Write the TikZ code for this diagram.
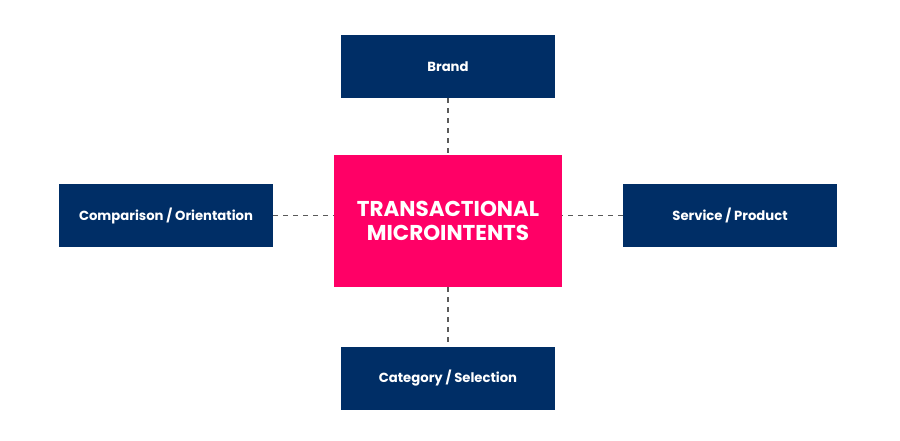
\documentclass[tikz,border=0pt]{standalone}
\usepackage{fontspec}
\setmainfont{Poppins}
\usetikzlibrary{positioning}
\definecolor{navyBox}{HTML}{002E66}
\definecolor{pinkBox}{HTML}{FF0066}
\definecolor{dashGray}{HTML}{5A5A5A}
\tikzset{
  topic/.style={fill=navyBox, text=white, minimum width=214pt, minimum height=63pt,
    inner sep=0pt, font=\bfseries\fontsize{13.2}{15}\selectfont},
  core/.style={fill=pinkBox, text=white, minimum width=228pt, minimum height=132pt,
    inner sep=0pt, align=center, font=\bfseries\fontsize{21.5}{24}\selectfont},
  link/.style={dashGray, line width=1.8pt, dash pattern=on 5pt off 5pt}
}
\begin{document}
\begin{tikzpicture}[x=1pt,y=1pt]
  \useasboundingbox (0,0) rectangle (900,441);
  % centre and the four intents
  \node [core] (micro) at (448,220) {TRANSACTIONAL\\MICROINTENTS};
  \node [topic] (brand) at (448,374.5) {Brand};
  \node [topic] (categ) at (448,62.5) {Category / Selection};
  \node [topic] (compar) at (166,225.5) {Comparison / Orientation};
  \node [topic] (servi) at (730,225.5) {Service / Product};
  % dashed links
  \draw [link] (brand.south) -- (micro.north);
  \draw [link] (micro.south) -- (categ.north);
  \draw [link] (compar.east) -- (compar.east -| micro.west);
  \draw [link] (servi.west) -- (servi.west -| micro.east);
\end{tikzpicture}
\end{document}
